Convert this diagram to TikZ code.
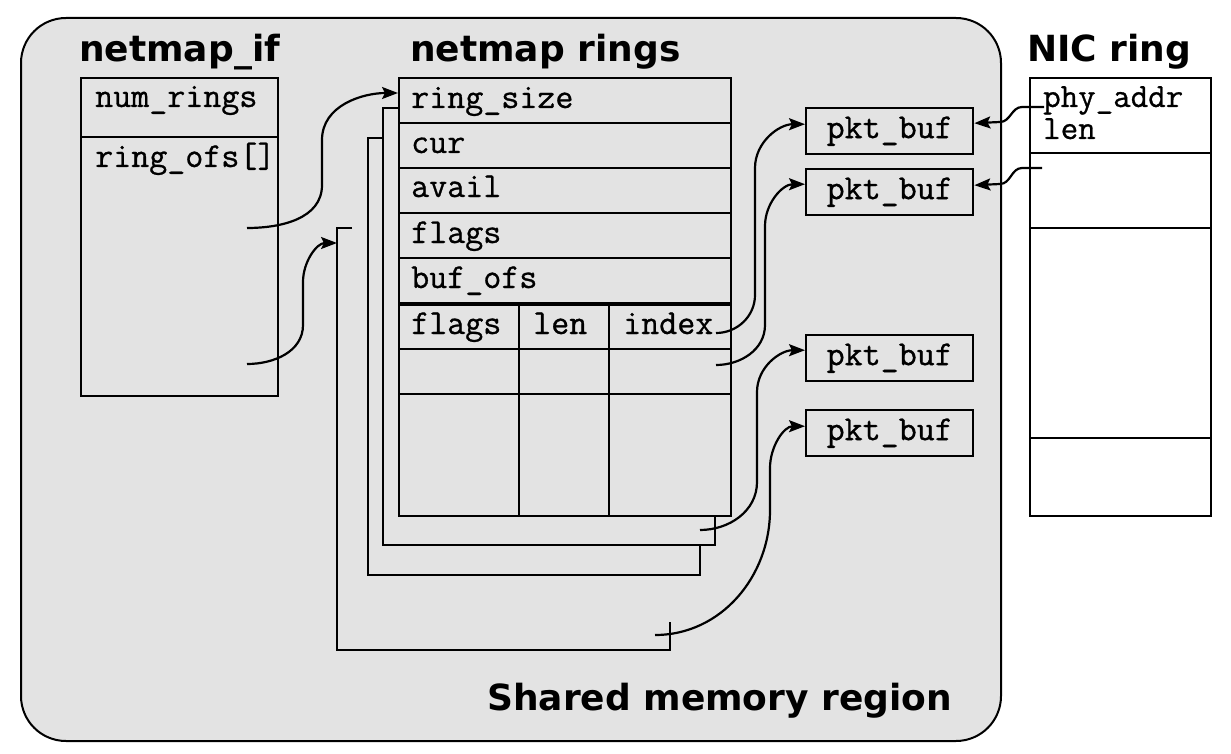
\documentclass[tikz,border=0pt]{standalone}
\usepackage{fontspec}
\setmainfont{DejaVu Sans}
\newfontfamily\monof[FakeBold=0.8]{Latin Modern Mono}
\usetikzlibrary{arrows.meta,calc}
\definecolor{shmgray}{HTML}{E3E3E3}
\begin{document}
\begin{tikzpicture}[x=1pt,y=-1pt,
  boxline/.style={draw, line width=2.4pt, inner sep=0pt, anchor=north west},
  rowline/.style={line width=2.4pt},
  cellline/.style={line width=1.2pt},
  conn/.style={line width=2.2pt, -{Stealth[length=16pt,width=12pt,inset=3pt]}},
  mono/.style={font=\fontsize{35}{40}\selectfont\monof, inner sep=0pt, anchor=base west},
  monos/.style={mono, font=\fontsize{34}{38}\selectfont\monof},
  pkt/.style={boxline, minimum width=167pt, minimum height=46pt, font=\fontsize{35}{40}\selectfont\monof},
  ttl/.style={font=\fontsize{36}{43}\selectfont\bfseries, inner sep=0pt, anchor=base west},
]
\useasboundingbox (0,0) rectangle (1231,754);
% shared memory region
\node[boxline, line width=2pt, fill=shmgray, rounded corners=45pt, minimum width=980pt, minimum height=723pt] (shm) at (20,17) {};
% back rings
\draw[rowline] (398,108) -- (383,108) -- (383,545) -- (715,545) -- (715,515);
\draw[rowline] (383,138) -- (368,138) -- (368,575) -- (700,575) -- (700,545);
\draw[rowline] (352,228) -- (337,228) -- (337,650) -- (670,650) -- (670,622);
% front ring
\node[boxline, minimum width=332pt, minimum height=438pt] (ring) at (398,77) {};
\foreach \yy in {123,168,213,258} \draw[rowline] (398,\yy) -- (730,\yy);
\draw[line width=3.6pt] (398,304) -- (730,304);
\draw[cellline] (398,349) -- (730,349);
\draw[cellline] (398,394) -- (730,394);
\draw[cellline] (519,304) -- (519,515);
\draw[cellline] (609,304) -- (609,515);
% netmap_if
\node[boxline, minimum width=197pt, minimum height=318pt] (nif) at (80,77) {};
\draw[rowline] (80,137) -- (277,137);
% pkt bufs
\node[pkt] (p1) at (805,107) {pkt\_buf};
\node[pkt] (p2) at (805,168) {pkt\_buf};
\node[pkt] (p3) at (805,334) {pkt\_buf};
\node[pkt] (p4) at (805,409) {pkt\_buf};
% NIC ring
\node[boxline, fill=white, minimum width=181pt, minimum height=438pt] (nic) at (1029,77) {};
\foreach \yy in {153,228,438} \draw[rowline] (1029,\yy) -- (1210,\yy);
% texts
\node[mono] (tnum) at (95,107) {num\_rings};
\node[mono] (tofs) at (95,167) {ring\_ofs[]};
\node[mono] (trs) at (411,108) {ring\_size};
\node[mono] (tcur) at (411,153) {cur};
\node[mono] (tav) at (411,197) {avail};
\node[mono] (tfl) at (411,243) {flags};
\node[mono] (tbo) at (411,288) {buf\_ofs};
\node[mono] (tsf) at (411,334) {flags};
\node[mono] (tsl) at (533,334) {len};
\node[mono] (tsi) at (623,334) {index};
\node[monos] (tpa) at (1043,107) {phy\_addr};
\node[monos] (tln) at (1043,139) {len};
\node[ttl] (t1) at (79,62) {netmap\_if};
\node[ttl] (t2) at (410,62) {netmap rings};
\node[ttl] (t3) at (1027,62) {NIC ring};
\node[ttl] (t4) at (487,710) {Shared memory region};
% connector ends
\coordinate (o1) at (247,228);
\coordinate (o2) at (247,364);
\coordinate (r1in) at (398,93);
\coordinate (r4in) at (337,243);
\coordinate (ix1) at (716,333);
\coordinate (ix2) at (716,365);
\coordinate (r2out) at (700,530);
\coordinate (r4out) at (655,635);
\coordinate (n1) at (1044,107);
\coordinate (n2) at (1042,168);
% connectors
\draw[conn] (o1) to[out=0,in=-90] (322,185) -- (322,140) to[out=90,in=180] (r1in);
\draw[conn] (o2) to[out=0,in=-90] (303,325) -- (303,282) to[out=90,in=180] (r4in);
\draw[conn] (ix1) to[out=0,in=-90] (755,295) -- (755,168) to[out=90,in=180] ($(p1.west)+(0,-7)$);
\draw[conn] (ix2) to[out=0,in=-90] (765,325) -- (765,226) to[out=90,in=180] ($(p2.west)+(0,-8)$);
\draw[conn] (r2out) to[out=0,in=-90] (757,482) -- (757,392) to[out=90,in=180] ($(p3.west)+(0,-8)$);
\draw[conn] (r4out) to[out=0,in=-90] (770,510) -- (770,468) to[out=90,in=180] ($(p4.west)+(0,-7)$);
\draw[conn] (n1) -- (1022,107) to[out=180,in=0] (1000,122) -- ($(p1.east)+(0,-8)$);
\draw[conn] (n2) -- (1022,168) to[out=180,in=0] (1000,184) -- ($(p2.east)+(0,-7)$);
\end{tikzpicture}
\end{document}
